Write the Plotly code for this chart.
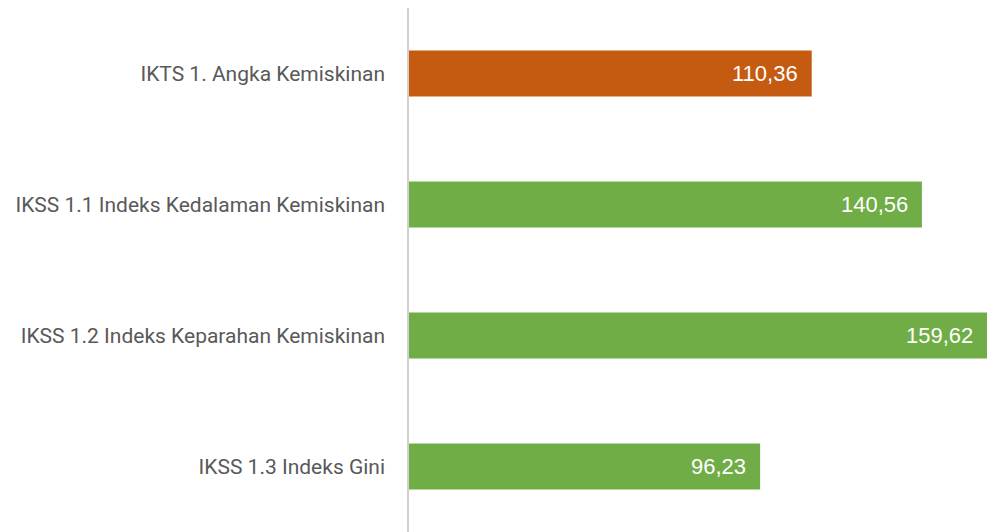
import plotly.graph_objects as go

categories = [
    'IKTS 1. Angka Kemiskinan',
    'IKSS 1.1 Indeks Kedalaman Kemiskinan',
    'IKSS 1.2 Indeks Keparahan Kemiskinan',
    'IKSS 1.3 Indeks Gini',
]
values = [110.36, 140.56, 159.62, 96.23]
bar_colors = ['#C55A11', '#70AD47', '#70AD47', '#70AD47']

labels = [f'{v:.2f}'.replace('.', ',') for v in values]

x_max = 158.4

fig = go.Figure()

fig.add_trace(
    go.Bar(
        x=values,
        y=categories,
        orientation='h',
        marker=dict(color=bar_colors, line=dict(width=0)),
        customdata=labels,
        hovertemplate='%{y}: %{customdata}<extra></extra>'
    )
)

# value labels, white, tucked inside the end of each bar
# (the longest bar runs past the axis end, so its label is pinned to the edge)
for cat, val, lab in zip(categories, values, labels):
    fig.add_annotation(
        x=min(val, x_max),
        y=cat,
        text=lab,
        showarrow=False,
        xanchor='right',
        xshift=-12,
        font=dict(family='Liberation Sans, Arial', size=22, color='white')
    )

fig.update_layout(
    width=987,
    height=532,
    template='plotly_white',
    paper_bgcolor='white',
    plot_bgcolor='white',
    margin=dict(l=409, r=0, t=8, b=0),
    bargap=0.65,
    showlegend=False,
    font=dict(family='Roboto', size=21, color='#595959'),
    xaxis=dict(
        range=[0, x_max],
        showgrid=False,
        zeroline=False,
        showticklabels=False,
        showline=False,
    ),
    yaxis=dict(
        autorange='reversed',
        showgrid=False,
        zeroline=False,
        showline=True,
        linecolor='#D0D0D0',
        linewidth=1.5,
        ticks='',
        ticklabelstandoff=18,
        tickfont=dict(family='Roboto', size=21, color='#595959'),
    ),
)

# drop the default page margin so the figure sits flush in the window
fig.write_html(
    "out.html",
    config={'displayModeBar': False},
    post_script="document.body.style.margin='0';document.body.style.overflow='hidden';"
)
